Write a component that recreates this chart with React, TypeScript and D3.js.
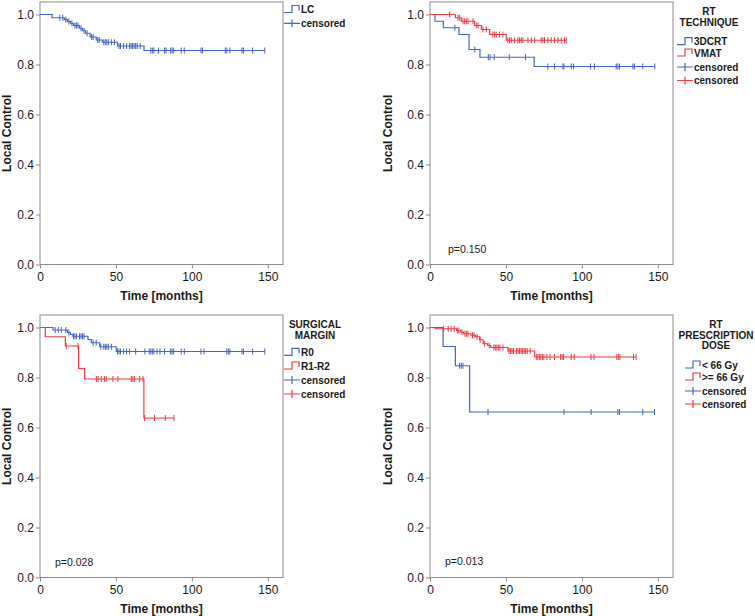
import React, { useEffect, useRef } from 'react';
import * as d3 from 'd3';

const BLUE = '#4466c6';
const RED = '#ee3b45';
const FRAME = '#8c8c8c';
const FONT = '"Liberation Sans", Arial, sans-serif';

// x / y ticks
const xTicks = [0, 50, 100, 150];
const yTicks = [0, 0.2, 0.4, 0.6, 0.8, 1.0];

// panel A: all patients
const lcEvents = [8, 16, 18, 20, 22, 26, 28, 30, 33, 37, 41, 51, 68.5];
const lcSurv = [0.987, 0.98, 0.972, 0.965, 0.956, 0.945, 0.935, 0.925, 0.91, 0.898, 0.889, 0.874, 0.856];
const lcCensor = [13, 15, 17, 19, 21, 23, 24, 25, 27, 29, 31, 34, 35, 38, 39, 42, 43, 44, 45, 47, 49, 52, 53, 55, 57, 59, 60, 61, 62, 63, 64, 66, 73, 74, 75, 78, 82, 83, 86, 87, 88, 93, 95, 106, 107, 122, 123, 125, 133, 134, 140, 148];

// panel B: RT technique
const dcrtEvents = [3.3, 8.8, 19.1, 25.7, 32.9, 68.6];
const dcrtSurv = [0.973, 0.947, 0.92, 0.86, 0.829, 0.792];
const dcrtCensor = [16.4, 29.5, 38.4, 39.5, 42.3, 52.2, 62.9, 77.6, 82, 87.5, 88.2, 93, 94.5, 105.7, 108.3, 122.6, 123.7, 124.8, 133.6, 134.6, 140.1, 148];
const vmatEvents = [16.7, 20.6, 29.4, 33.8, 39.3, 50.2];
const vmatSurv = [0.987, 0.973, 0.956, 0.94, 0.92, 0.897];
const vmatCensor = [12.9, 18.4, 19.5, 21.7, 22.8, 23.9, 25, 28.3, 30.5, 31.6, 34.9, 37.1, 41.4, 42.5, 43.6, 45.8, 48, 51.3, 52.4, 53.5, 55.7, 57.9, 59, 60.1, 61.2, 64.5, 66.7, 68.9, 73.2, 74.3, 75.4, 77.6, 79.8, 82, 84.2, 86.4, 88.6, 89.7];

// panel C: surgical margin
const r0Events = [8.6, 18, 20, 21.7, 31.6, 33.8, 39.3, 50.2];
const r0Surv = [0.99, 0.98, 0.972, 0.965, 0.952, 0.939, 0.923, 0.904];
const r0Censor = [10, 12, 14, 17, 19, 22, 23, 24, 26, 27, 28, 29, 35, 37, 40, 42, 43, 44, 45, 47, 51, 52, 53, 55, 57, 59, 63, 69, 72, 73, 74, 75, 77, 79, 82, 86, 87, 88, 93, 95, 106, 108, 123, 124, 125, 133, 134, 140, 148];
const r12Events = [3.5, 16.7, 25.4, 29.4, 68.4];
const r12Surv = [0.963, 0.926, 0.836, 0.794, 0.638];
const r12Censor = [17.3, 25, 37.1, 38.2, 40.4, 42.5, 43.6, 48, 51.3, 60.1, 61.2, 62.3, 65.6, 67.8, 68.9, 75.4, 82.5, 88.2];

// panel D: prescription dose
const lowEvents = [8.6, 16.7, 26.1];
const lowSurv = [0.924, 0.847, 0.662];
const lowCensor = [19.5, 20.6, 21.7, 38.2, 88.2, 106.1, 123.7, 124.8, 140.1, 147.8];
const highEvents = [3.4, 17.5, 20, 22, 27, 30, 32.7, 35, 38, 40, 51.3, 68.9];
const highSurv = [0.995, 0.988, 0.982, 0.975, 0.969, 0.963, 0.951, 0.935, 0.928, 0.92, 0.906, 0.882];
const highCensor = [9, 12, 14, 16, 18, 19, 21, 23, 24, 25, 28, 29, 31, 33, 36, 39, 42, 43, 44, 45, 46, 48, 52, 53, 54, 55, 57, 58, 59, 60, 61, 62, 63, 64, 66, 70, 71, 72, 73, 74, 75, 77, 79, 82, 86, 87, 88, 93, 95, 106, 108, 123, 124, 125, 134, 135.7];

interface Series {
  label: string;
  color: string;
  events: number[];
  surv: number[];
  censor: number[];
}

interface Panel {
  left: number;
  top: number;
  yTitleX: number;
  series: Series[];
  title: string[];
  titleX: number;
  titleY: number;
  legendX: number;
  legendY: number[];
  pText?: string;
  pX?: number;
  pY?: number;
}

const panels: Panel[] = [
  {
    left: 40, top: 2, yTitleX: 10.5,
    series: [{ label: 'LC', color: BLUE, events: lcEvents, surv: lcSurv, censor: lcCensor }],
    title: [], titleX: 0, titleY: 0,
    legendX: 284, legendY: [9.5, 23.3],
  },
  {
    left: 430, top: 2, yTitleX: 391.5,
    series: [
      { label: '3DCRT', color: BLUE, events: dcrtEvents, surv: dcrtSurv, censor: dcrtCensor },
      { label: 'VMAT', color: RED, events: vmatEvents, surv: vmatSurv, censor: vmatCensor },
    ],
    title: ['RT', 'TECHNIQUE'], titleX: 709, titleY: 11.7,
    legendX: 677, legendY: [41.7, 53, 67, 80.5],
    pText: 'p=0.150', pX: 448, pY: 249,
  },
  {
    left: 40, top: 315, yTitleX: 10.5,
    series: [
      { label: 'R0', color: BLUE, events: r0Events, surv: r0Surv, censor: r0Censor },
      { label: 'R1-R2', color: RED, events: r12Events, surv: r12Surv, censor: r12Censor },
    ],
    title: ['SURGICAL', 'MARGIN'], titleX: 315, titleY: 324.3,
    legendX: 284, legendY: [352.3, 366, 380, 394],
    pText: 'p=0.028', pX: 55, pY: 562.3,
  },
  {
    left: 430, top: 315, yTitleX: 391.5,
    series: [
      { label: '< 66 Gy', color: BLUE, events: lowEvents, surv: lowSurv, censor: lowCensor },
      { label: '>= 66 Gy', color: RED, events: highEvents, surv: highSurv, censor: highCensor },
    ],
    title: ['RT', 'PRESCRIPTION', 'DOSE'], titleX: 716, titleY: 324.3,
    legendX: 685, legendY: [365, 377, 391, 404],
    pText: 'p=0.013', pX: 445, pY: 561.7,
  },
];

const plotW = 243;
const plotH = 262.5;

const App: React.FC = () => {
  const svgRef = useRef<SVGSVGElement>(null);

  useEffect(() => {
    if (!svgRef.current) return;
    const svg = d3.select(svgRef.current);
    svg.selectAll('*').remove();

    panels.forEach(p => {
      const x = d3.scaleLinear().domain([0, 160]).range([p.left, p.left + plotW]);
      const y = d3.scaleLinear().domain([0, 1.05]).range([p.top + plotH, p.top]);
      const g = svg.append('g');

      // axes
      const xa = g.append('g')
        .attr('transform', `translate(0,${p.top + plotH})`)
        .call(d3.axisBottom(x).tickValues(xTicks).tickSize(4).tickPadding(4).tickSizeOuter(0));
      const ya = g.append('g')
        .attr('transform', `translate(${p.left},0)`)
        .call(d3.axisLeft(y).tickValues(yTicks).tickFormat(d3.format('.1f')).tickSize(4).tickPadding(2).tickSizeOuter(0));
      [xa, ya].forEach(a => {
        a.select('.domain').remove();
        a.attr('font-family', FONT).attr('font-size', 12);
        a.selectAll('line').attr('stroke', FRAME);
        a.selectAll('text').attr('fill', '#1a1a1a');
      });

      g.append('rect')
        .attr('x', p.left).attr('y', p.top)
        .attr('width', plotW).attr('height', plotH)
        .attr('fill', 'none').attr('stroke', FRAME).attr('stroke-width', 1);

      // titles
      g.append('text')
        .attr('x', p.left + plotW / 2).attr('y', p.top + plotH + 35)
        .attr('text-anchor', 'middle').attr('font-family', FONT)
        .attr('font-size', 12).attr('font-weight', 'bold').attr('fill', '#1a1a1a')
        .text('Time [months]');
      g.append('text')
        .attr('transform', `translate(${p.yTitleX},${p.top + plotH / 2}) rotate(-90)`)
        .attr('text-anchor', 'middle').attr('font-family', FONT)
        .attr('font-size', 12).attr('font-weight', 'bold').attr('fill', '#1a1a1a')
        .text('Local Control');

      // curves
      const line = d3.line<[number, number]>()
        .x(d => x(d[0]))
        .y(d => y(d[1]))
        .curve(d3.curveStepAfter);

      p.series.forEach(s => {
        const end = d3.max(s.censor)!;
        const pts: [number, number][] = [[0, 1], ...s.events.map((t, i) => [t, s.surv[i]] as [number, number]), [end, s.surv[s.surv.length - 1]]];
        g.append('path')
          .attr('d', line(pts)!)
          .attr('fill', 'none').attr('stroke', s.color).attr('stroke-width', 1.2);
        const survAt = (t: number) => {
          const i = d3.bisectRight(s.events, t) - 1;
          return i < 0 ? 1 : s.surv[i];
        };
        g.selectAll(null)
          .data(s.censor)
          .join('line')
          .attr('x1', d => x(d)).attr('x2', d => x(d))
          .attr('y1', d => y(survAt(d)) - 3).attr('y2', d => y(survAt(d)) + 3)
          .attr('stroke', s.color).attr('stroke-width', 1);
      });

      // legend
      const lg = g.append('g').attr('font-family', FONT).attr('font-size', 10).attr('font-weight', 'bold').attr('fill', '#1a1a1a');
      p.title.forEach((t, i) => {
        lg.append('text').attr('x', p.titleX).attr('y', p.titleY + i * 10.7)
          .attr('dy', '0.35em').attr('text-anchor', 'middle').text(t);
      });
      const items = [
        ...p.series.map(s => ({ kind: 'step', color: s.color, label: s.label })),
        ...p.series.map(s => ({ kind: 'cens', color: s.color, label: 'censored' })),
      ];
      items.forEach((it, i) => {
        const cy = p.legendY[i];
        const x0 = p.legendX;
        if (it.kind === 'step') {
          lg.append('path')
            .attr('d', `M${x0},${cy + 3}H${x0 + 8}V${cy - 4}H${x0 + 15}V${cy + 1}`)
            .attr('fill', 'none').attr('stroke', it.color).attr('stroke-width', 1.2);
        } else {
          lg.append('path')
            .attr('d', `M${x0},${cy}H${x0 + 16}M${x0 + 8},${cy - 4}V${cy + 4}`)
            .attr('fill', 'none').attr('stroke', it.color).attr('stroke-width', 1.2);
        }
        lg.append('text').attr('x', x0 + 17).attr('y', cy).attr('dy', '0.35em').text(it.label);
      });

      if (p.pText) {
        g.append('text')
          .attr('x', p.pX!).attr('y', p.pY!).attr('dy', '0.35em')
          .attr('font-family', FONT).attr('font-size', 10.5).attr('fill', '#1a1a1a')
          .text(p.pText);
      }
    });
  }, []);

  return (
    <svg
      ref={svgRef}
      width={755}
      height={616}
      style={{ position: 'absolute', left: 0, top: 0, background: '#fff' }}
    />
  );
};

export default App;
